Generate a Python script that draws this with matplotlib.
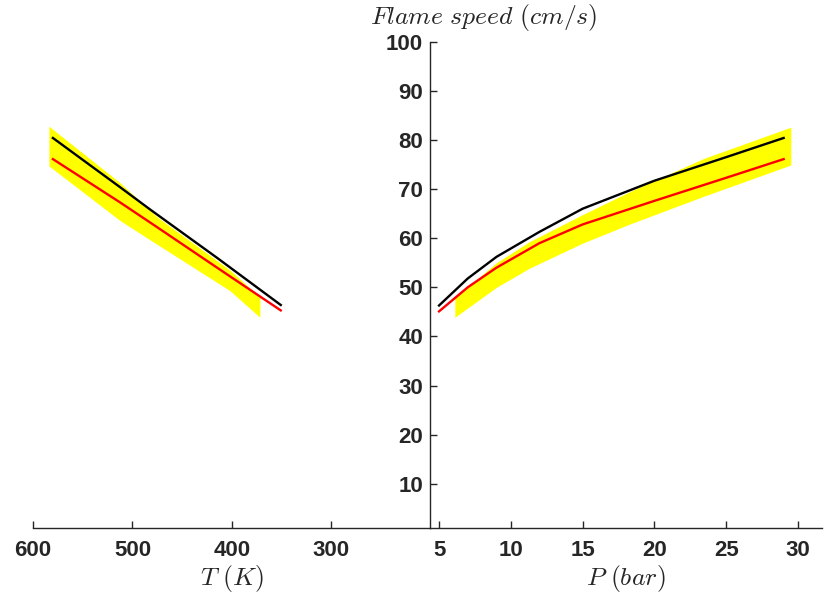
import matplotlib.pyplot as plt
import numpy as np

plt.rcParams["mathtext.fontset"] = "cm"
plt.rcParams["font.family"] = ["Liberation Sans", "DejaVu Sans"]

# temperature sweep (left panel)
T_black = [580, 512.6, 482, 415, 351]
T_black_speed = [80.4, 70.4, 65.8, 56.0, 46.4]
T_red = [580, 512.6, 475.7, 415, 351]
T_red_speed = [76.1, 67.3, 62.3, 54.0, 45.3]
T_band = [584, 512.6, 475.7, 402, 372]
T_band_hi = [82.8, 71.3, 64.4, 53.5, 48.0]
T_band_lo = [74.7, 63.6, 58.8, 49.3, 43.9]

# pressure sweep (right panel)
P = [5, 7, 9, 12, 15, 20, 25, 29]
P_black_speed = [46.3, 51.8, 56.2, 61.3, 66.0, 71.7, 76.5, 80.4]
P_red_speed = [45.1, 50.0, 54.0, 59.0, 62.8, 67.6, 72.3, 76.1]
P_band = [6.1, 9, 11.3, 15, 18.3, 23.4, 29.5]
P_band_hi = [47.9, 55.0, 59.3, 64.8, 69.5, 76.2, 82.6]
P_band_lo = [43.9, 50.0, 53.9, 59.0, 62.9, 68.5, 74.9]

AX_COLOR = "#262626"
W, H = 825, 598

fig = plt.figure(figsize=(W / 100, H / 100), dpi=100)
bottom = (H - 528) / H
top = (H - 41.7) / H
x0, xm, x1 = 33 / W, 430 / W, 822 / W
ax_l = fig.add_axes([x0, bottom, xm - x0, top - bottom])
ax_r = fig.add_axes([xm, bottom, x1 - xm, top - bottom], sharey=ax_l)

panels = (
    (ax_l, T_band, T_band_lo, T_band_hi, T_black, T_black_speed, T_red, T_red_speed),
    (ax_r, P_band, P_band_lo, P_band_hi, P, P_black_speed, P, P_red_speed),
)
for ax, xb, lo, hi, xk, yk, xr, yr in panels:
    ax.fill_between(xb, lo, hi, color="#ffff00", linewidth=0)
    ax.plot(xk, yk, color="black", linewidth=1.7)
    ax.plot(xr, yr, color="#ff0000", linewidth=1.7)
    for s in ("top", "right"):
        ax.spines[s].set_visible(False)
    for s in ("bottom", "left"):
        ax.spines[s].set_color(AX_COLOR)
        ax.spines[s].set_linewidth(1.0)
    ax.tick_params(direction="in", length=5, width=1.0, colors=AX_COLOR,
                   labelsize=16)
    ax.tick_params(axis="x", pad=9)

ax_l.set_xlim(600, 201)
ax_l.set_xticks([600, 500, 400, 300])
ax_l.spines["left"].set_visible(False)
ax_l.tick_params(axis="y", left=False, labelleft=False)
ax_l.set_xlabel(r"$T\ (K)$", fontsize=18.5, color=AX_COLOR, labelpad=1)

ax_r.set_xlim(4.37, 31.67)
ax_r.set_xticks([5, 10, 15, 20, 25, 30])
ax_r.set_ylim(1, 100)
ax_r.set_yticks(np.arange(10, 101, 10))
ax_r.tick_params(axis="y", pad=5)
ax_r.set_xlabel(r"$P\ (bar)$", fontsize=18.5, color=AX_COLOR, labelpad=1)
ax_r.annotate(r"$Flame\ speed\ (cm/s)$", xy=(0.138, 1.0), xycoords="axes fraction",
              xytext=(0, 6.5), textcoords="offset points", ha="center", va="bottom",
              fontsize=18.5, color=AX_COLOR)

for ax in (ax_l, ax_r):
    for lab in ax.get_xticklabels() + ax.get_yticklabels():
        lab.set_fontweight("bold")

fig.savefig("out.png", dpi=100)
